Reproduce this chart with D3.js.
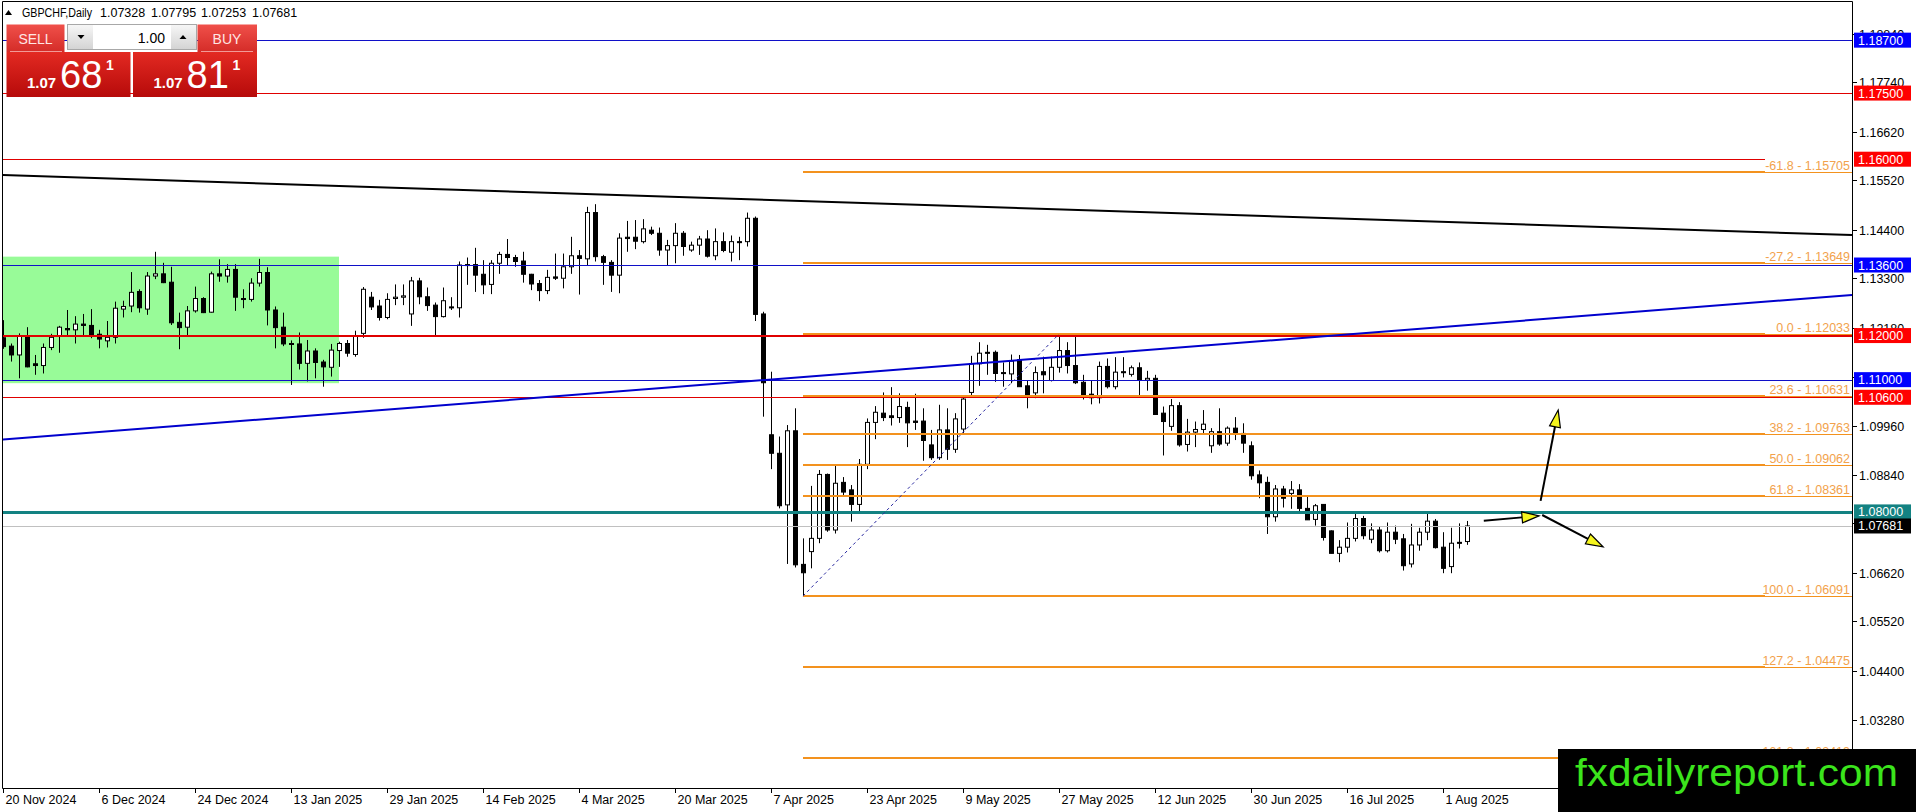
<!DOCTYPE html>
<html lang="en">
<head>
<meta charset="UTF-8">
<title>GBPCHF Daily</title>
<script src="https://cdn.jsdelivr.net/npm/d3@7"></script>
<style>
    body{margin:0;background:#fff;overflow:hidden}
    svg text{font-family:"Liberation Sans", Arial, sans-serif}
</style>
</head>
<body>
<svg id="chart" width="1916" height="812"></svg>
<script>
    // ---- data ----
    const symbol = "GBPCHF,Daily";
    const dateTickIdx = [0,12,24,36,48,60,72,84,96,108,120,132,144,156,168,180];
    const dateTickLabels = ["20 Nov 2024","6 Dec 2024","24 Dec 2024","13 Jan 2025","29 Jan 2025","14 Feb 2025",
        "4 Mar 2025","20 Mar 2025","7 Apr 2025","23 Apr 2025","9 May 2025","27 May 2025","12 Jun 2025",
        "30 Jun 2025","16 Jul 2025","1 Aug 2025"];
    const priceTicks = [1.1884,1.1774,1.1662,1.1552,1.1440,1.1330,1.1218,1.1106,1.0996,1.0884,1.0774,1.0662,1.0552,1.0440,1.0328];

    const opens = [
        1.1195,1.1176,1.1156,1.1200,1.1136,1.1132,1.1173,1.1199,1.1216,1.1213,
        1.1226,1.1223,1.1203,1.1188,1.1196,1.1260,1.1267,1.1300,1.1260,1.1335,
        1.1340,1.1321,1.1230,1.1219,1.1256,1.1284,1.1253,1.1340,1.1335,1.1350,
        1.1284,1.1282,1.1319,1.1343,1.1258,1.1219,1.1182,1.1181,1.1137,1.1165,
        1.1140,1.1128,1.1166,1.1182,1.1157,1.1205,1.1287,1.1267,1.1241,1.1284,
        1.1287,1.1249,1.1324,1.1288,1.1269,1.1243,1.1265,1.1263,1.1361,1.1361,
        1.1339,1.1316,1.1364,1.1384,1.1377,1.1369,1.1339,1.1318,1.1302,1.1333,
        1.1330,1.1356,1.1381,1.1374,1.1479,1.1379,1.1366,1.1337,1.1423,1.1423,
        1.1413,1.1439,1.1432,1.1394,1.1404,1.1432,1.1394,1.1405,1.1419,1.1381,
        1.1413,1.1389,1.1413,1.1413,1.1466,1.1249,1.0975,1.0933,1.0816,1.0984,
        1.0681,1.0710,1.0740,1.0885,1.0759,1.0867,1.0850,1.0817,1.0908,1.1003,
        1.1024,1.1018,1.1014,1.1037,1.1006,1.1006,1.0952,1.0923,1.0986,1.0942,
        1.0988,1.1071,1.1136,1.1162,1.1162,1.1116,1.1113,1.1145,1.1086,1.1070,
        1.1118,1.1098,1.1128,1.1166,1.1132,1.1094,1.1067,1.1059,1.1130,1.1084,
        1.1118,1.1112,1.1127,1.1099,1.1103,1.1024,1.0994,1.1041,1.0953,1.0981,
        1.0987,1.0950,1.0982,1.0956,1.0990,1.0978,1.0950,1.0884,1.0867,1.0789,
        1.0852,1.0842,1.0850,1.0808,1.0783,1.0817,1.0757,1.0706,1.0720,1.0740,
        1.0785,1.0738,1.0759,1.0712,1.0754,1.0739,1.0682,1.0725,1.0754,1.0779,
        1.0720,1.0676,1.0731,1.07328];
    const highs = [
        1.1235,1.1182,1.1205,1.1219,1.1156,1.1182,1.1204,1.1222,1.1258,1.1244,
        1.1249,1.1260,1.1213,1.1233,1.1277,1.1279,1.1344,1.1305,1.1344,1.1390,
        1.1365,1.1356,1.1252,1.1267,1.1311,1.1287,1.1345,1.1373,1.1362,1.1362,
        1.1305,1.1330,1.1374,1.1355,1.1266,1.1252,1.1189,1.1207,1.1190,1.1171,
        1.1145,1.1181,1.1186,1.1190,1.1211,1.1310,1.1299,1.1281,1.1296,1.1316,
        1.1316,1.1333,1.1331,1.1309,1.1275,1.1309,1.1287,1.1368,1.1377,1.1399,
        1.1371,1.1371,1.1390,1.1419,1.1383,1.1390,1.1340,1.1326,1.1349,1.1386,
        1.1386,1.1424,1.1394,1.1492,1.1498,1.1383,1.1371,1.1432,1.1460,1.1462,
        1.1464,1.1447,1.1445,1.1417,1.1455,1.1437,1.1413,1.1426,1.1439,1.1443,
        1.1434,1.1427,1.1424,1.1479,1.1470,1.1254,1.1118,1.0971,1.0997,1.1035,
        1.0740,1.0859,1.0895,1.0887,1.0905,1.0879,1.0861,1.0920,1.1012,1.1040,
        1.1071,1.1083,1.1069,1.1050,1.1068,1.1035,1.0986,1.1043,1.1035,1.1024,
        1.1061,1.1154,1.1185,1.1179,1.1166,1.1139,1.1157,1.1156,1.1099,1.1130,
        1.1152,1.1152,1.12033,1.1185,1.1200,1.1111,1.1097,1.1141,1.1148,1.1151,
        1.1151,1.1132,1.1139,1.1120,1.1111,1.1039,1.1056,1.1049,1.1011,1.1005,
        1.1031,1.0990,1.1035,1.0994,1.1015,1.1001,1.0960,1.0894,1.0880,1.0861,
        1.0859,1.0870,1.0863,1.0836,1.0818,1.0817,1.0758,1.0736,1.0776,1.0802,
        1.0791,1.0774,1.0768,1.0776,1.0769,1.0750,1.0773,1.0764,1.0797,1.0784,
        1.0754,1.0764,1.0774,1.07795];
    const lows = [
        1.1170,1.1141,1.1103,1.1128,1.1111,1.1114,1.1167,1.1161,1.1198,1.1182,
        1.1201,1.1194,1.1171,1.1173,1.1182,1.1241,1.1253,1.1252,1.1247,1.1328,
        1.1319,1.1224,1.1169,1.1198,1.1252,1.1251,1.1252,1.1322,1.1320,1.1256,
        1.1262,1.1277,1.1311,1.1223,1.1171,1.1176,1.1088,1.1123,1.1096,1.1103,
        1.1084,1.1107,1.1129,1.1152,1.1152,1.1195,1.1258,1.1234,1.1237,1.1269,
        1.1269,1.1222,1.1271,1.1256,1.1201,1.1241,1.1258,1.1241,1.1315,1.1299,
        1.1294,1.1294,1.1340,1.1360,1.1356,1.1320,1.1303,1.1278,1.1294,1.1326,
        1.1307,1.1340,1.1293,1.1358,1.1368,1.1315,1.1299,1.1296,1.1390,1.1396,
        1.1409,1.1428,1.1381,1.1360,1.1364,1.1381,1.1390,1.1383,1.1377,1.1371,
        1.1389,1.1368,1.1371,1.1402,1.1233,1.1016,1.0897,1.0808,1.0682,1.0674,
        1.06091,1.0672,1.0729,1.0755,1.0751,1.0838,1.0778,1.0797,1.0897,1.0965,
        1.1006,1.0996,1.1002,1.0947,1.0986,1.0916,1.0918,1.0918,1.0918,1.0934,
        1.0978,1.1061,1.1086,1.1111,1.1095,1.1084,1.1092,1.1084,1.1035,1.1058,
        1.1069,1.1096,1.1116,1.1114,1.1090,1.1055,1.1044,1.1046,1.1080,1.1078,
        1.1105,1.1107,1.1064,1.1075,1.1021,1.0928,1.0984,1.0948,1.0937,1.0947,
        1.0975,1.0934,1.0950,1.0950,1.0963,1.0934,1.0873,1.0831,1.0750,1.0778,
        1.0810,1.0807,1.0799,1.0782,1.0769,1.0735,1.0706,1.0686,1.0708,1.0733,
        1.0738,1.0729,1.0708,1.0708,1.0727,1.0667,1.0674,1.0712,1.0736,1.0717,
        1.0661,1.0661,1.0717,1.07253];
    const closes = [
        1.1175,1.1156,1.1198,1.1129,1.1132,1.1173,1.1196,1.1219,1.1213,1.1226,
        1.1223,1.1200,1.1192,1.1196,1.1262,1.1266,1.1298,1.1263,1.1335,1.1340,
        1.1320,1.1229,1.1218,1.1256,1.1284,1.1252,1.1340,1.1335,1.1350,1.1287,
        1.1282,1.1319,1.1343,1.1258,1.1218,1.1181,1.1180,1.1137,1.1165,1.1139,
        1.1129,1.1167,1.1182,1.1160,1.1200,1.1305,1.1265,1.1241,1.1282,1.1287,
        1.1290,1.1324,1.1288,1.1268,1.1243,1.1279,1.1263,1.1360,1.1359,1.1337,
        1.1315,1.1364,1.1384,1.1377,1.1368,1.1339,1.1317,1.1302,1.1332,1.1330,
        1.1356,1.1381,1.1375,1.1479,1.1379,1.1366,1.1337,1.1421,1.1420,1.1414,
        1.1442,1.1432,1.1394,1.1404,1.1432,1.1402,1.1405,1.1419,1.1380,1.1413,
        1.1393,1.1413,1.1411,1.1466,1.1248,1.1093,1.0933,1.0814,1.0984,1.0680,
        1.0662,1.0740,1.0885,1.0759,1.0865,1.0845,1.0817,1.0908,1.1003,1.1026,
        1.1014,1.1014,1.1039,1.1002,1.1003,1.0962,1.0923,1.0986,1.0942,1.1011,
        1.1056,1.1136,1.1160,1.1160,1.1114,1.1114,1.1142,1.1084,1.1065,1.1116,
        1.1111,1.1128,1.1166,1.1132,1.1093,1.1061,1.1059,1.1130,1.1084,1.1117,
        1.1116,1.1127,1.1099,1.1103,1.1021,1.1005,1.1041,1.0952,1.0981,1.0987,
        1.0999,1.0982,1.0954,1.0990,1.0978,1.0956,1.0882,1.0866,1.0789,1.0852,
        1.0831,1.0850,1.0808,1.0782,1.0814,1.0742,1.0706,1.0720,1.0740,1.0785,
        1.0746,1.0759,1.0712,1.0754,1.0738,1.0678,1.0725,1.0754,1.0779,1.0719,
        1.0672,1.0729,1.0729,1.07681];
    const askPrice = 1.07811;

    // horizontal levels (blue / red / teal) drawn on the chart
    const levelPrices = [1.187, 1.175, 1.16, 1.136, 1.12, 1.11, 1.106, 1.08];
    // fibonacci retracement, low bar 100 -> high bar 132
    const fibAnchorIdx = [100, 132];
    const fibAnchorPrice = [1.06091, 1.12033];
    const fibRatios = [-61.8, -27.2, 0.0, 23.6, 38.2, 50.0, 61.8, 100.0, 127.2, 161.8];
    const fibPrices = [1.15705, 1.13649, 1.12033, 1.10631, 1.09763, 1.09062, 1.08361, 1.06091, 1.04475, 1.02419];
    // trend lines: [bar, price] pairs
    const blackTrend = [[0, 1.1564], [231, 1.1428]];
    const blueTrend = [[0, 1.0964], [231, 1.1292]];
    // range box
    const boxIdx = [0, 42];
    const boxPrice = [1.1379, 1.1092];
    // forecast arrows [bar0, price0, bar1, price1]
    const arrows = [
        [185.1, 1.0780, 192.0, 1.0791],
        [192.2, 1.0825, 194.4, 1.1031],
        [192.4, 1.0793, 200.0, 1.0721]
    ];

    // ---- layout ----
    const svg = d3.select("#chart");
    const plotL = 3, plotT = 2, plotR = 1852, plotB = 788;
    const x = d3.scaleLinear().domain([0, 231.125]).range([3, 1852]);
    const y = d3.scaleLinear().domain([1.01738, 1.19611]).range([788, 0]);
    const last = closes.length - 1;

    svg.append("rect").attr("width", 1916).attr("height", 812).attr("fill", "#fff");

    const defs = svg.append("defs");
    defs.append("clipPath").attr("id", "plotClip")
        .append("rect").attr("x", plotL).attr("y", plotT)
        .attr("width", plotR - plotL).attr("height", plotB - plotT);

    function grad(id, c1, c2){
        let g = defs.append("linearGradient").attr("id", id)
            .attr("x1", 0).attr("y1", 0).attr("x2", 0).attr("y2", 1);
        g.append("stop").attr("offset", "0%").attr("stop-color", c1);
        g.append("stop").attr("offset", "100%").attr("stop-color", c2);
    }
    grad("gBtn", "#f0504a", "#d42c28");
    grad("gBig", "#e32a22", "#b60a0a");
    grad("gGrey", "#f6f6f6", "#d4d4d4");

    const plot = svg.append("g").attr("clip-path", "url(#plotClip)");

    // range box (background object)
    plot.append("rect")
        .attr("x", x(boxIdx[0]) - 1)
        .attr("y", y(boxPrice[0]))
        .attr("width", x(boxIdx[1]) - x(boxIdx[0]) + 1)
        .attr("height", y(boxPrice[1]) - y(boxPrice[0]))
        .attr("fill", "#98fb98");

    // candles
    const idx = d3.range(closes.length);
    const candles = plot.append("g");
    candles.selectAll("line.wick").data(idx).join("line")
        .attr("class", "wick")
        .attr("x1", i => Math.round(x(i)) + 0.5).attr("x2", i => Math.round(x(i)) + 0.5)
        .attr("y1", i => y(highs[i])).attr("y2", i => y(lows[i]))
        .attr("stroke", "#000").attr("stroke-width", 1);
    candles.selectAll("rect.body").data(idx).join("rect")
        .attr("class", "body")
        .attr("x", i => Math.round(x(i)) - 2 + 0.5)
        .attr("y", i => y(Math.max(opens[i], closes[i])))
        .attr("width", 4)
        .attr("height", i => Math.max(1, y(Math.min(opens[i], closes[i])) - y(Math.max(opens[i], closes[i]))))
        .attr("fill", i => closes[i] > opens[i] ? "#fff" : "#000")
        .attr("stroke", "#000").attr("stroke-width", 1);

    // horizontal levels
    const levelStyle = [
        {c: "#1010c8", w: 1, end: plotR}, {c: "#e00000", w: 1, end: plotR},
        {c: "#e00000", w: 1, end: 1765}, {c: "#1010c8", w: 1, end: plotR},
        {c: "#e00000", w: 2, end: plotR}, {c: "#1010c8", w: 1, end: plotR},
        {c: "#e00000", w: 1, end: plotR}, {c: "#138282", w: 3, end: plotR}
    ];
    const levelBox = ["#0000ff", "#ff0000", "#ff0000", "#0000ff", "#ff0000", "#0000ff", "#ff0000", "#138282"];
    // bid line
    plot.append("line")
        .attr("x1", plotL).attr("x2", plotR)
        .attr("y1", Math.round(y(closes[last])) + 0.5).attr("y2", Math.round(y(closes[last])) + 0.5)
        .attr("stroke", "#c0c0c0").attr("stroke-width", 1);
    levelPrices.forEach((p, k) => {
        let yy = levelStyle[k].w % 2 ? Math.round(y(p)) + 0.5 : Math.round(y(p));
        plot.append("line")
            .attr("x1", plotL).attr("x2", levelStyle[k].end)
            .attr("y1", yy).attr("y2", yy)
            .attr("stroke", levelStyle[k].c).attr("stroke-width", levelStyle[k].w);
    });

    // fibonacci
    const fibColor = "#f3921e", fibText = "#f2a24c";
    const fibX0 = x(fibAnchorIdx[0]);
    fibPrices.forEach((p, k) => {
        let yy = Math.round(y(p));
        plot.append("line").attr("x1", fibX0).attr("x2", 1765)
            .attr("y1", yy).attr("y2", yy).attr("stroke", fibColor).attr("stroke-width", 2);
        plot.append("line").attr("x1", 1765).attr("x2", plotR)
            .attr("y1", yy + 0.5).attr("y2", yy + 0.5).attr("stroke", fibColor).attr("stroke-width", 1);
        plot.append("text").attr("x", 1850).attr("y", yy - 2)
            .attr("text-anchor", "end").attr("font-size", "12.5px").attr("fill", fibText)
            .text(fibRatios[k].toFixed(1) + " - " + p.toFixed(5));
    });
    plot.append("line")
        .attr("x1", x(fibAnchorIdx[0])).attr("y1", y(fibAnchorPrice[0]))
        .attr("x2", x(fibAnchorIdx[1])).attr("y2", y(fibAnchorPrice[1]))
        .attr("stroke", "#2828a0").attr("stroke-width", 1).attr("stroke-dasharray", "3,3");

    // trend lines, extended to the edges
    function ray(pts, color){
        let [a, b] = pts;
        let slope = (b[1] - a[1]) / (b[0] - a[0]);
        let i0 = x.invert(0), i1 = x.invert(plotR);
        plot.append("line")
            .attr("x1", x(i0)).attr("y1", y(a[1] + slope * (i0 - a[0])))
            .attr("x2", x(i1)).attr("y2", y(a[1] + slope * (i1 - a[0])))
            .attr("stroke", color).attr("stroke-width", 2);
    }
    ray(blackTrend, "#000");
    ray(blueTrend, "#0000cd");

    // arrows
    arrows.forEach(a => {
        let x0 = x(a[0]), y0 = y(a[1]), x1 = x(a[2]), y1 = y(a[3]);
        let ang = Math.atan2(y1 - y0, x1 - x0);
        let len = 17, hw = 5.5;
        let bx = x1 - len * Math.cos(ang), by = y1 - len * Math.sin(ang);
        plot.append("line").attr("x1", x0).attr("y1", y0).attr("x2", bx).attr("y2", by)
            .attr("stroke", "#000").attr("stroke-width", 2);
        let pts = [[x1, y1],
            [bx + hw * Math.sin(ang), by - hw * Math.cos(ang)],
            [bx - hw * Math.sin(ang), by + hw * Math.cos(ang)]];
        plot.append("path").attr("d", "M" + pts.map(q => q.join(",")).join("L") + "Z")
            .attr("fill", "#f5f51e").attr("stroke", "#000").attr("stroke-width", 1.2);
    });

    // frame
    svg.append("path")
        .attr("d", `M${plotL - 0.5},${plotB + 0.5}V${plotT - 0.5}H${plotR + 0.5}V812`)
        .attr("fill", "none").attr("stroke", "#000").attr("stroke-width", 1);
    svg.append("line").attr("x1", plotL - 0.5).attr("x2", plotR + 0.5)
        .attr("y1", plotB + 0.5).attr("y2", plotB + 0.5).attr("stroke", "#000");

    // price axis
    const pAxis = svg.append("g");
    priceTicks.forEach(p => {
        let yy = Math.round(y(p)) + 0.5;
        pAxis.append("line").attr("x1", plotR).attr("x2", plotR + 5)
            .attr("y1", yy).attr("y2", yy).attr("stroke", "#000");
        pAxis.append("text").attr("x", 1859).attr("y", yy + 4.5)
            .attr("font-size", "12.5px").attr("fill", "#000").text(p.toFixed(5));
    });
    function priceTag(p, bg){
        let yy = y(p);
        pAxis.append("rect").attr("x", plotR + 2).attr("y", yy - 7.5)
            .attr("width", 57).attr("height", 15).attr("fill", bg);
        pAxis.append("text").attr("x", 1858).attr("y", yy + 4.5)
            .attr("font-size", "12.5px").attr("fill", "#fff").text(p.toFixed(5));
    }
    levelPrices.forEach((p, k) => priceTag(p, levelBox[k]));
    priceTag(closes[last], "#000");

    // time axis
    const tAxis = svg.append("g");
    dateTickIdx.forEach((i, k) => {
        let xx = Math.round(x(i)) + 0.5;
        tAxis.append("line").attr("x1", xx).attr("x2", xx)
            .attr("y1", plotB).attr("y2", plotB + 5).attr("stroke", "#000");
        tAxis.append("text").attr("x", xx + 2).attr("y", 804)
            .attr("font-size", "12.5px").attr("fill", "#000").text(dateTickLabels[k]);
    });

    // header
    svg.append("path").attr("d", "M5,15L12,15L8.5,10Z").attr("fill", "#000");
    svg.append("text").attr("x", 22).attr("y", 17).attr("font-size", "12.5px")
        .attr("textLength", 70).attr("lengthAdjust", "spacingAndGlyphs").text(symbol);
    [opens[last], highs[last], lows[last], closes[last]].forEach((v, k) => {
        svg.append("text").attr("x", [100, 151, 201, 252][k]).attr("y", 17)
            .attr("font-size", "12.5px").text(v.toFixed(5));
    });

    // one-click trading panel
    const panel = svg.append("g");
    panel.append("rect").attr("x", 6.5).attr("y", 24.5).attr("width", 58).attr("height", 27.5).attr("fill", "url(#gBtn)");
    panel.append("rect").attr("x", 197.5).attr("y", 24.5).attr("width", 59.5).attr("height", 27.5).attr("fill", "url(#gBtn)");
    panel.append("line").attr("x1", 10).attr("x2", 62).attr("y1", 51.5).attr("y2", 51.5).attr("stroke", "#f29a96");
    panel.append("line").attr("x1", 201).attr("x2", 253).attr("y1", 51.5).attr("y2", 51.5).attr("stroke", "#f29a96");
    panel.append("text").attr("x", 35.5).attr("y", 44).attr("text-anchor", "middle")
        .attr("font-size", "14px").attr("fill", "#ffe6e4").text("SELL");
    panel.append("text").attr("x", 227).attr("y", 44).attr("text-anchor", "middle")
        .attr("font-size", "14px").attr("fill", "#ffe6e4").text("BUY");
    panel.append("rect").attr("x", 67.5).attr("y", 24.5).attr("width", 129).attr("height", 25)
        .attr("fill", "#fff").attr("stroke", "#a8a8a8");
    panel.append("rect").attr("x", 68).attr("y", 25).attr("width", 25).attr("height", 24).attr("fill", "url(#gGrey)");
    panel.append("rect").attr("x", 171).attr("y", 25).attr("width", 25).attr("height", 24).attr("fill", "url(#gGrey)");
    panel.append("path").attr("d", "M77.5,35L84.5,35L81,39Z").attr("fill", "#000");
    panel.append("path").attr("d", "M179.5,39L186.5,39L183,35Z").attr("fill", "#000");
    panel.append("text").attr("x", 165).attr("y", 42.5).attr("text-anchor", "end")
        .attr("font-size", "14px").attr("fill", "#000").text("1.00");

    function bigPrice(x0, p){
        let s = p.toFixed(5);
        panel.append("rect").attr("x", x0).attr("y", 52).attr("width", 124).attr("height", 45).attr("fill", "url(#gBig)");
        panel.append("text").attr("x", x0 + 20.5).attr("y", 87.5).attr("font-size", "15px")
            .attr("font-weight", "bold").attr("fill", "#fff").text(s.slice(0, 4));
        panel.append("text").attr("x", x0 + 53.5).attr("y", 87.5).attr("font-size", "38px")
            .attr("fill", "#fff").text(s.slice(4, 6));
        panel.append("text").attr("x", x0 + 99.5).attr("y", 70).attr("font-size", "14px")
            .attr("font-weight", "bold").attr("fill", "#fff").text(s.slice(6));
    }
    bigPrice(6.5, closes[last]);
    bigPrice(133, askPrice);

    // watermark
    svg.append("rect").attr("x", 1558).attr("y", 749).attr("width", 358).attr("height", 63).attr("fill", "#000");
    svg.append("text").attr("x", 1575).attr("y", 786).attr("font-size", "38px")
        .attr("textLength", 323).attr("lengthAdjust", "spacingAndGlyphs")
        .attr("fill", "#3be41c").text("fxdailyreport.com");
</script>
</body>
</html>
